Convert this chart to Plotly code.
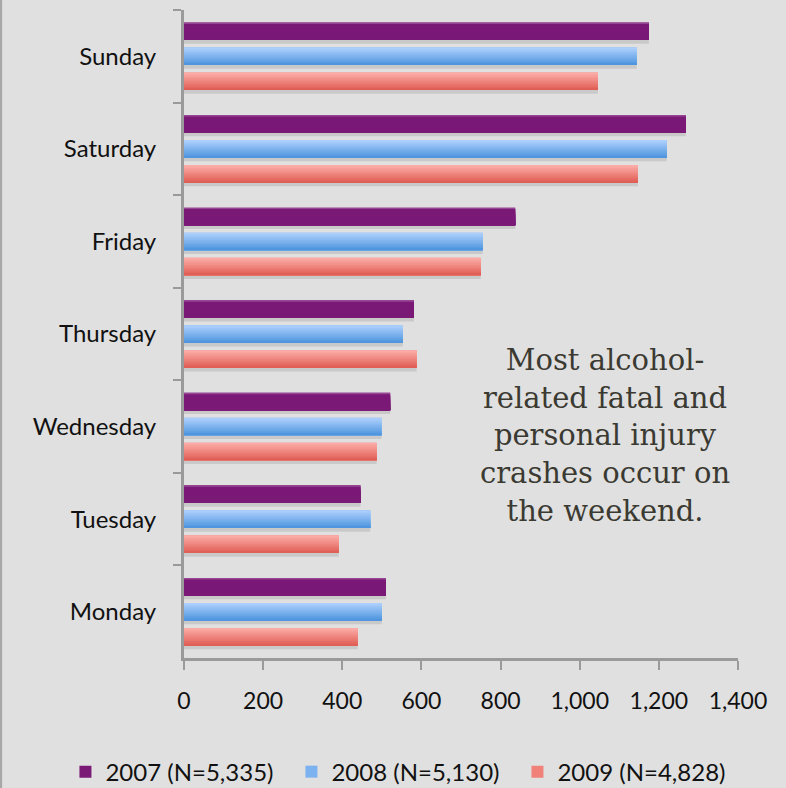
import plotly.graph_objects as go

days = ["Sunday", "Saturday", "Friday", "Thursday", "Wednesday", "Tuesday", "Monday"]
v2007 = [1175, 1268, 837, 581, 521, 446, 510]
v2008 = [1144, 1220, 755, 553, 499, 471, 500]
v2009 = [1046, 1147, 750, 588, 487, 391, 439]
series_names = ["2007 (N=5,335)", "2008 (N=5,130)", "2009 (N=4,828)"]
x_ticks = [0, 200, 400, 600, 800, 1000, 1200, 1400]

note = "Most alcohol-<br>related fatal and<br>personal injury<br>crashes occur on<br>the weekend."

# style: (offset, width, top colour, mid colour, bottom colour, gradient?)
styles = [
    (-0.365, 0.19, (150, 70, 148), (123, 25, 119), (120, 24, 116), False),
    (-0.095, 0.19, (172, 207, 253), (125, 178, 240), (80, 150, 222), True),
    (0.175, 0.19, (252, 172, 167), (240, 130, 122), (224, 95, 86), True),
]
values = [v2007, v2008, v2009]

def rgb(c):
    return "rgb(%d,%d,%d)" % c

def mix(a, b, t):
    return tuple(int(round(a[k] + (b[k] - a[k]) * t)) for k in range(3))

fig = go.Figure()
N = 12
for name, vals, (off, w, top, mid, bot, grad) in zip(series_names, values, styles):
    # shadow
    fig.add_trace(go.Bar(y=days, x=vals, orientation="h", offset=off + 0.04, width=w,
                         marker=dict(color="rgba(0,0,0,0.10)", line=dict(width=0)),
                         showlegend=False, hoverinfo="skip"))
    # base (legend entry)
    fig.add_trace(go.Bar(y=days, x=vals, orientation="h", offset=off, width=w, name=name,
                         marker=dict(color=rgb(mid), line=dict(width=0))))
    h = w / N
    for i in range(N):
        if grad:
            col = mix(top, bot, i / (N - 1))
        else:
            col = top if i == 0 else mid
        fig.add_trace(go.Bar(y=days, x=vals, orientation="h", offset=off + i * h, width=w - i * h,
                             marker=dict(color=rgb(col), line=dict(width=0)),
                             showlegend=False, hoverinfo="skip"))

fig.add_annotation(text=note, xref="paper", yref="paper", x=0.76, y=0.343,
                   xanchor="center", yanchor="middle",
                   showarrow=False, align="center",
                   font=dict(family="DejaVu Serif", size=29, color="#3b3a32"))

fig.add_shape(type="line", xref="paper", yref="paper", x0=-0.331, x1=-0.331, y0=-0.21, y1=1.02,
              line=dict(color="#a8a8a8", width=3))

fig.update_layout(
    width=786, height=788,
    barmode="overlay",
    paper_bgcolor="#e0e0e0", plot_bgcolor="#e0e0e0",
    margin=dict(l=184, r=48, t=10, b=130, autoexpand=False),
    font=dict(family="Lato", size=24, color="#111111"),
    showlegend=True,
    legend=dict(orientation="h", xref="paper", yref="paper", x=-0.214, y=-0.176,
                xanchor="left", yanchor="middle", entrywidth=181, entrywidthmode="pixels",
                font=dict(size=24), bgcolor="rgba(0,0,0,0)"),
    xaxis=dict(range=[0, 1400], tickvals=x_ticks, tickformat=",d", showgrid=False, zeroline=False,
               showline=True, linecolor="#9a9a9a", linewidth=3, ticks="outside", ticklen=9,
               tickwidth=2, tickcolor="#9a9a9a", ticklabelstandoff=11,
               tickfont=dict(size=23)),
    yaxis=dict(categoryorder="array", categoryarray=days, range=[6.5, -0.5], showgrid=False,
               showline=True, linecolor="#9a9a9a", linewidth=3, ticks="outside", ticklen=8,
               tickwidth=2, tickcolor="#9a9a9a", tickson="boundaries", ticklabelstandoff=20,
               tickfont=dict(size=24)),
)

fig.write_html("out.html", config={"displayModeBar": False},
               post_script="document.body.style.margin='0';document.body.style.background='#e0e0e0';")
